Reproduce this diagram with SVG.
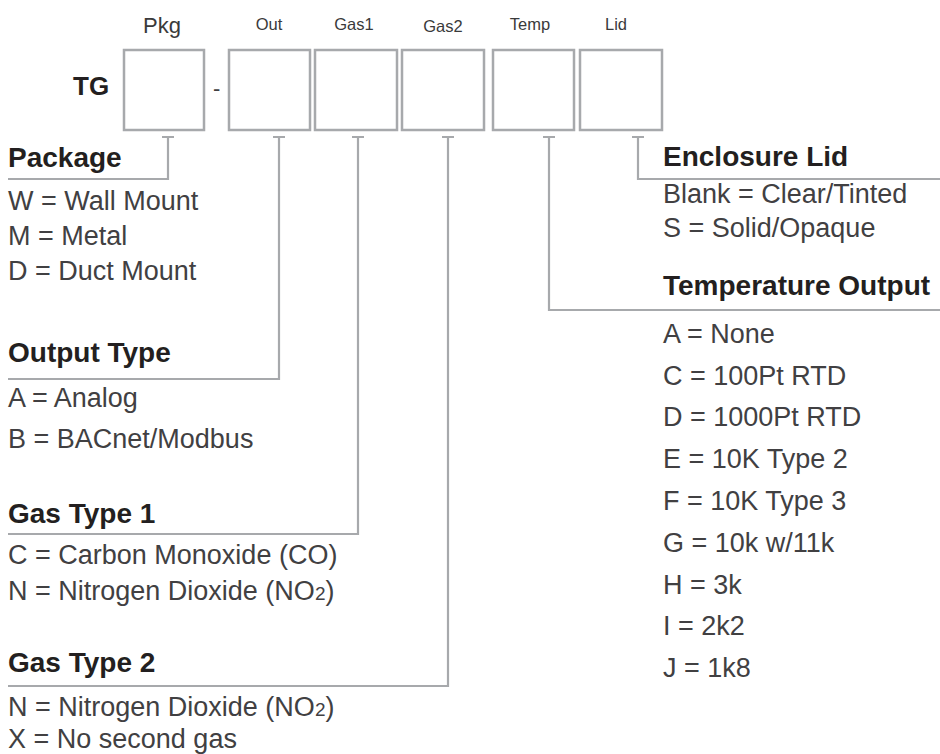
<svg xmlns="http://www.w3.org/2000/svg" width="940" height="754" viewBox="0 0 940 754">
<style>
.box{fill:#ffffff;stroke:#a7a9ac;stroke-width:2.5}
.ln{fill:none;stroke:#a7a9ac;stroke-width:2.2}
.lab{font-family:"Liberation Sans",Arial,sans-serif;font-size:16.5px;fill:#3a3a3b;text-anchor:middle}
.hd{font-family:"Liberation Sans",Arial,sans-serif;font-size:28px;font-weight:bold;fill:#231f20}
.it{font-family:"Liberation Sans",Arial,sans-serif;font-size:27px;fill:#414042}
.sub{font-size:19px}
</style>
<rect width="940" height="754" fill="#ffffff"/>
<text class="hd" x="73" y="95" style="font-size:26px">TG</text>
<text class="it" x="213" y="96" style="font-size:22px">-</text>
<g id="pkg"><rect class="box" x="124" y="50" width="80" height="80"/><text class="lab" x="162" y="33" style="font-size:22px">Pkg</text></g>
<g id="out"><rect class="box" x="229" y="50" width="81" height="80"/><text class="lab" x="269" y="30">Out</text></g>
<g id="gas1"><rect class="box" x="315" y="50" width="82" height="80"/><text class="lab" x="354" y="30">Gas1</text></g>
<g id="gas2"><rect class="box" x="402" y="50" width="82" height="80"/><text class="lab" x="443" y="32">Gas2</text></g>
<g id="temp"><rect class="box" x="493" y="50" width="81" height="80"/><text class="lab" x="530" y="30">Temp</text></g>
<g id="lid"><rect class="box" x="580" y="50" width="82" height="80"/><text class="lab" x="616" y="30">Lid</text></g>
<g id="connectors">
<path class="ln" d="M162 137H174M168 137V179H8"/>
<path class="ln" d="M273 137H285M279 137V379H8"/>
<path class="ln" d="M352 137H364M358 137V534H8"/>
<path class="ln" d="M442 137H454M448 137V686H8"/>
<path class="ln" d="M543 137H555M549 137V310H940"/>
<path class="ln" d="M632 137H644M638 137V179H940"/>
</g>
<g id="package">
<text class="hd" x="8" y="167">Package</text>
<text class="it" x="8" y="210">W = Wall Mount</text>
<text class="it" x="8" y="245">M = Metal</text>
<text class="it" x="8" y="280">D = Duct Mount</text>
</g>
<g id="output-type">
<text class="hd" x="8" y="362">Output Type</text>
<text class="it" x="8" y="407">A = Analog</text>
<text class="it" x="8" y="448">B = BACnet/Modbus</text>
</g>
<g id="gas-type-1">
<text class="hd" x="8" y="523">Gas Type 1</text>
<text class="it" x="8" y="564">C = Carbon Monoxide (CO)</text>
<text class="it" x="8" y="600">N = Nitrogen Dioxide (NO<tspan class="sub">2</tspan>)</text>
</g>
<g id="gas-type-2">
<text class="hd" x="8" y="672">Gas Type 2</text>
<text class="it" x="8" y="716">N = Nitrogen Dioxide (NO<tspan class="sub">2</tspan>)</text>
<text class="it" x="8" y="748">X = No second gas</text>
</g>
<g id="enclosure-lid">
<text class="hd" x="663" y="166">Enclosure Lid</text>
<text class="it" x="663" y="203">Blank = Clear/Tinted</text>
<text class="it" x="663" y="237">S = Solid/Opaque</text>
</g>
<g id="temperature-output">
<text class="hd" x="663" y="295">Temperature Output</text>
<text class="it" x="663" y="343">A = None</text>
<text class="it" x="663" y="385">C = 100Pt RTD</text>
<text class="it" x="663" y="426">D = 1000Pt RTD</text>
<text class="it" x="663" y="468">E = 10K Type 2</text>
<text class="it" x="663" y="510">F = 10K Type 3</text>
<text class="it" x="663" y="552">G = 10k w/11k</text>
<text class="it" x="663" y="594">H = 3k</text>
<text class="it" x="663" y="635">I = 2k2</text>
<text class="it" x="663" y="677">J = 1k8</text>
</g>
</svg>
